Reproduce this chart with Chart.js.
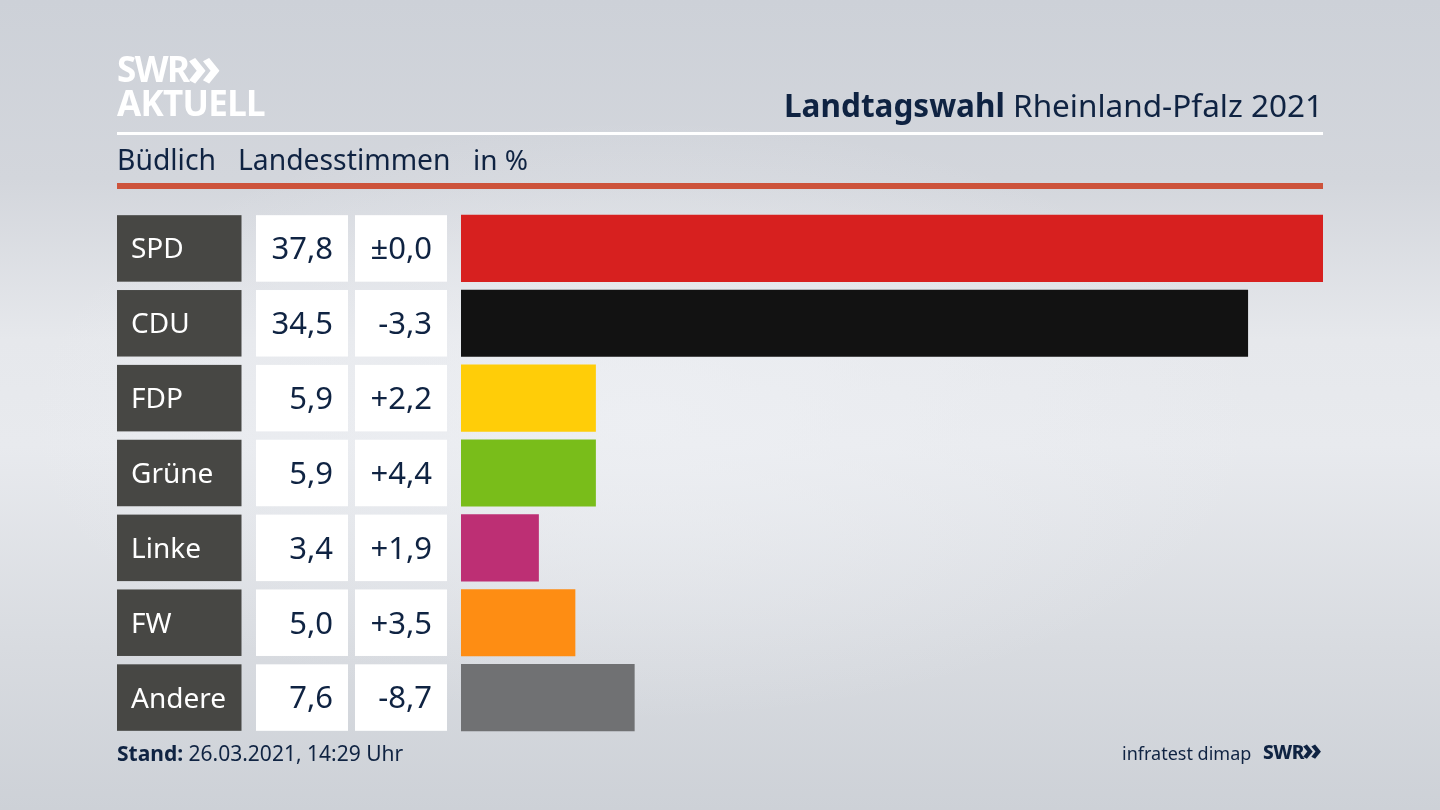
<!DOCTYPE html>
<html lang="de">
<head>
<meta charset="utf-8">
<title>Landtagswahl Rheinland-Pfalz 2021</title>
<script src="https://cdn.jsdelivr.net/npm/chart.js@4"></script>
<style>
  html, body { margin: 0; padding: 0; }
  body {
    width: 1440px; height: 810px; overflow: hidden; position: relative;
    font-family: "Noto Sans", sans-serif; color: #0f2342;
    background:
      radial-gradient(ellipse 620px 300px at 640px 420px, rgba(238,240,244,.75), rgba(238,240,244,0)),
      linear-gradient(180deg, #cdd1d8 0%, #d3d6dc 22%, #e6e8ec 42%, #e8eaee 55%, #d8dbe0 80%, #cdd1d7 100%);
  }
  canvas { position: absolute; left: 0; top: 0; }
  .txt { position: absolute; white-space: nowrap; line-height: 1; }
  .rule { position: absolute; left: 117px; width: 1206px; }
  .logo { color: #fff; font-weight: 700; }
</style>
</head>
<body>
<canvas id="wahlChart" width="1440" height="810"></canvas>

<div class="txt logo" style="left:117px;top:51px;font-size:35px;letter-spacing:-1.6px">SWR</div>
<div class="txt logo" style="left:187px;top:36px;font-size:56px;letter-spacing:-2px">»</div>
<div class="txt logo" style="left:117px;top:85px;font-size:35px;letter-spacing:-.7px">AKTUELL</div>

<div class="txt" style="right:117px;top:89px;font-size:31.5px"><b>Landtagswahl</b> Rheinland-Pfalz 2021</div>
<div class="rule" style="top:132px;height:3px;background:#fff"></div>

<div class="txt" style="left:117px;top:145px;font-size:28.3px">Büdlich</div>
<div class="txt" style="left:238px;top:145px;font-size:28.3px">Landesstimmen</div>
<div class="txt" style="left:473px;top:145px;font-size:28px">in %</div>
<div class="rule" style="top:183px;height:6px;background:#cd533b"></div>

<div class="txt" style="left:117px;top:743px;font-size:21px"><b>Stand:</b> 26.03.2021, 14:29 Uhr</div>
<div class="txt" style="left:1122px;top:744px;font-size:18px">infratest dimap</div>
<div class="txt" style="left:1263px;top:743px;font-size:19px;font-weight:800;letter-spacing:-.5px">SWR</div>
<div class="txt" style="left:1302px;top:733px;font-size:31px;font-weight:800;letter-spacing:-1px">»</div>

<script>
const parteien = ["SPD", "CDU", "FDP", "Grüne", "Linke", "FW", "Andere"];
const anteil = [37.8, 34.5, 5.9, 5.9, 3.4, 5.0, 7.6];
const differenz = ["±0,0", "-3,3", "+2,2", "+4,4", "+1,9", "+3,5", "-8,7"];
const farben = ["#d7201f", "#121212", "#ffcd08", "#79bd1a", "#bd2f74", "#fe8d13", "#707173"];

// Zellen links neben den Balken, Position kommt von der y-Skala
const tabelle = {
  id: "tabelle",
  beforeDatasetsDraw(chart) {
    const { ctx, scales: { y } } = chart;
    const hoehe = 66.5;
    ctx.save();
    ctx.textBaseline = "middle";
    parteien.forEach((name, i) => {
      const mitte = y.getPixelForValue(i);
      const oben = mitte - hoehe / 2;

      ctx.fillStyle = "#474744";
      ctx.fillRect(117, oben, 124.5, hoehe);
      ctx.fillStyle = "#fff";
      ctx.fillRect(256, oben, 92, hoehe);
      ctx.fillRect(355, oben, 92, hoehe);

      ctx.textAlign = "left";
      ctx.fillStyle = "#fff";
      ctx.font = '28px "Noto Sans"';
      ctx.fillText(name, 131, mitte + 2);

      ctx.textAlign = "right";
      ctx.fillStyle = "#0f2342";
      ctx.font = '31px "Noto Sans"';
      ctx.fillText(anteil[i].toFixed(1).replace(".", ","), 333, mitte + 2);
      ctx.fillText(differenz[i], 432, mitte + 2);
    });
    ctx.restore();
  }
};

new Chart(document.querySelector("#wahlChart"), {
  type: "bar",
  data: {
    labels: parteien,
    datasets: [{
      data: anteil,
      backgroundColor: farben,
      barThickness: 66.5
    }]
  },
  options: {
    indexAxis: "y",
    responsive: false,
    animation: false,
    layout: { padding: { left: 461, right: 117, top: 211, bottom: 75 } },
    scales: {
      x: { display: false, min: 0, max: 37.8 },
      y: { display: false }
    },
    plugins: {
      legend: { display: false },
      tooltip: { enabled: false }
    }
  },
  plugins: [tabelle]
});
</script>
</body>
</html>
